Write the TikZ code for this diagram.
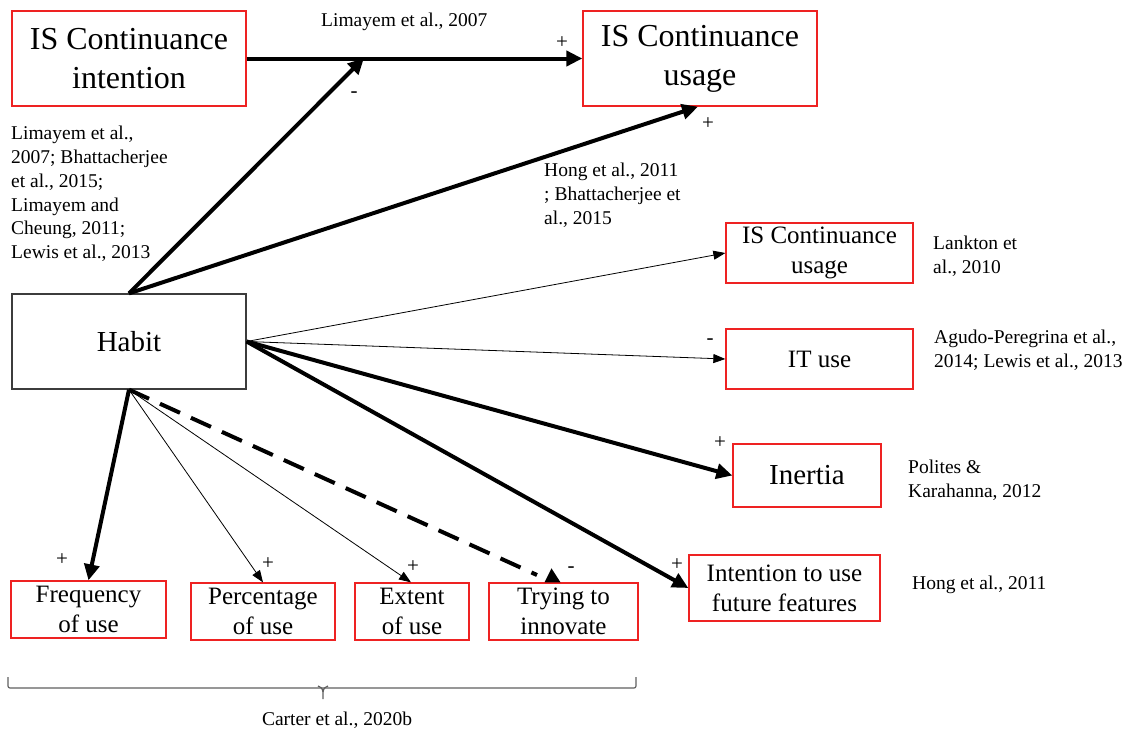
\documentclass[tikz,border=0pt]{standalone}
\usepackage{fontspec}
\setmainfont{Liberation Serif}
\usetikzlibrary{arrows.meta}
\definecolor{boxred}{RGB}{238,34,34}
\definecolor{habitgray}{RGB}{60,60,60}
\definecolor{bracegray}{RGB}{95,95,95}
\begin{document}
\begin{tikzpicture}[x=1pt,y=-1pt,
  box/.style={draw=boxred, line width=1.3pt, rectangle, inner sep=0pt, align=center},
  big/.style={font=\fontsize{32}{39}\selectfont},
  mid/.style={font=\fontsize{25}{30}\selectfont},
  large/.style={font=\fontsize{29}{34}\selectfont},
  cite/.style={font=\fontsize{19.5}{23.8}\selectfont, inner sep=0pt, align=left, anchor=north west},
  sign/.style={font=\fontsize{21}{24}\selectfont, inner sep=0pt},
  strong/.style={line width=4pt, -{Triangle[length=16pt,width=15pt]}},
  weak/.style={line width=0.8pt, -{Triangle[length=12pt,width=9pt]}},
]
\useasboundingbox (0,0) rectangle (1132,729);

% constructs
\node[box, big, minimum width=234pt, minimum height=95pt] (cint) at (129,58.5) {IS Continuance\\intention};
\node[box, big, minimum width=234pt, minimum height=95pt] (cusage) at (700,58.5) {IS Continuance\\usage};
\node[box, large, draw=habitgray, minimum width=234pt, minimum height=95pt] (habit) at (129,341.5) {Habit};
\node[box, mid, minimum width=187pt, minimum height=60pt] (usage2) at (819.5,253) {IS Continuance\\usage};
\node[box, mid, minimum width=187pt, minimum height=60pt] (ituse) at (819.5,359) {IT use};
\node[box, large, minimum width=148pt, minimum height=63pt] (inertia) at (807,475.5) {Inertia};
\node[box, mid, minimum width=191pt, minimum height=66pt] (future) at (784.5,588) {Intention to use\\future features};
\node[box, mid, minimum width=155pt, minimum height=57pt] (freq) at (88.5,609.5) {Frequency\\of use};
\node[box, mid, minimum width=144pt, minimum height=57pt] (perc) at (263,611.5) {Percentage\\of use};
\node[box, mid, minimum width=114pt, minimum height=57pt] (extent) at (412,611.5) {Extent\\of use};
\node[box, mid, minimum width=149pt, minimum height=57pt] (trying) at (563.5,611.5) {Trying to\\innovate};

% citations
\node[cite] (c1) at (321,13) {Limayem et al., 2007};
\node[cite] (c2) at (11,126) {Limayem et al.,\\2007; Bhattacherjee\\et al., 2015;\\Limayem and\\Cheung, 2011;\\Lewis et al., 2013};
\node[cite] (c3) at (544,163) {Hong et al., 2011\\; Bhattacherjee et\\al., 2015};
\node[cite] (c4) at (933,236) {Lankton et\\al., 2010};
\node[cite] (c5) at (934,330) {Agudo-Peregrina et al.,\\2014; Lewis et al., 2013};
\node[cite] (c6) at (908,460) {Polites \&\\Karahanna, 2012};
\node[cite] (c7) at (912,576) {Hong et al., 2011};
\node[cite, anchor=north] (c8) at (337,712) {Carter et al., 2020b};

% signs
\node[sign] (s1) at (354,95) {-};
\node[sign] (s2) at (562,43) {+};
\node[sign] (s3) at (708,124) {+};
\node[sign] (s4) at (710,342) {-};
\node[sign] (s5) at (720,443) {+};
\node[sign] (s6) at (677,565) {+};
\node[sign] (s7) at (62,560) {+};
\node[sign] (s8) at (268,564) {+};
\node[sign] (s9) at (413,567) {+};
\node[sign] (s10) at (571,570) {-};

% connectors
\coordinate (join) at (364,58);
\coordinate (tryend) at (537,575);
\draw[strong] (cint.east) -- (cusage.west);
\draw[strong] (habit.north) -- (join);
\draw[strong] (habit.north) -- ([xshift=-2pt]cusage.south);
\draw[weak] (habit.east) -- (usage2.west);
\draw[weak] (habit.east) -- (ituse.west);
\draw[strong] (habit.east) -- (inertia.west);
\draw[strong] (habit.east) -- (future.west);
\draw[strong] (habit.south) -- (freq.north);
\draw[weak] (habit.south) -- (perc.north);
\draw[weak] (habit.south) -- ([xshift=-1pt]extent.north);
\draw[line width=4pt, dash pattern=on 22pt off 12pt] (habit.south) -- (tryend);
\fill ([xshift=-19pt]trying.north) -- ([xshift=-3pt]trying.north) -- ([xshift=-12pt,yshift=14pt]trying.north) -- cycle;

% brace under the outcome boxes
\draw[bracegray, line width=1.2pt, rounded corners=2pt] (8,677) -- (8,688) -- (636,688) -- (636,677);
\draw[bracegray, line width=1.2pt] (318,686) .. controls (322,688) .. (323,692) -- (323,699);
\draw[bracegray, line width=1.2pt] (328,686) .. controls (324,688) .. (323,692);
\end{tikzpicture}
\end{document}
